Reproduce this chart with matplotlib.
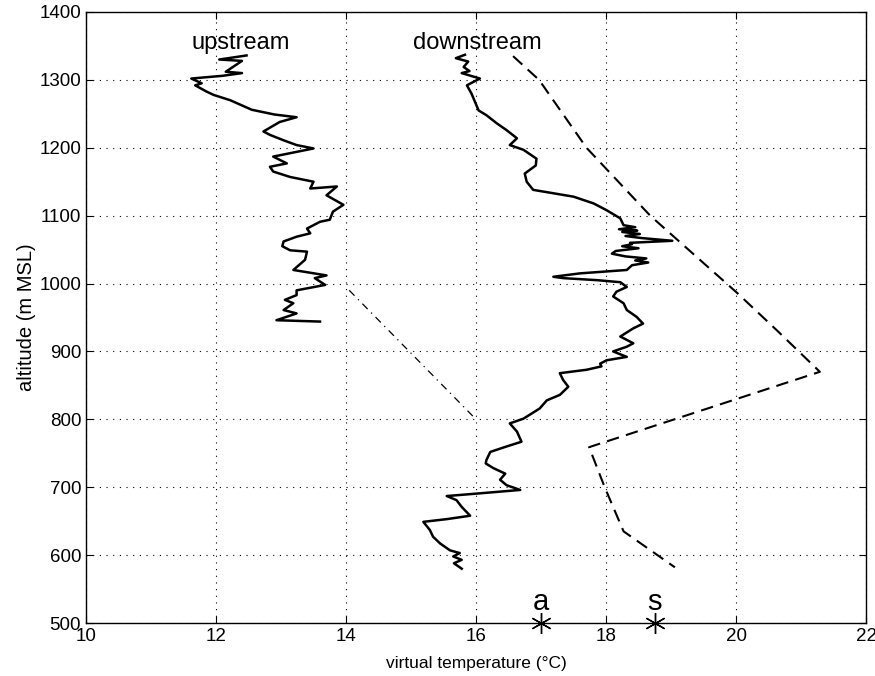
import matplotlib
matplotlib.use("Agg")
import matplotlib.pyplot as plt

plt.rcParams['font.family'] = ['Liberation Sans', 'DejaVu Sans']

# upstream sounding (virtual temperature degC, altitude m)
up_T = [12.47, 12.05, 12.40, 12.15, 12.40, 12.10, 11.62, 11.78, 11.68, 11.85, 11.96, 12.22,
        12.55, 12.90, 13.24, 12.98, 12.73, 12.83, 13.04, 13.24, 13.50, 12.88, 13.09, 12.83,
        12.88, 13.14, 13.50, 13.45, 13.86, 13.70, 13.96, 13.80, 13.75, 13.60, 13.40, 13.45,
        13.24, 13.04, 13.02, 13.14, 13.40, 13.37, 13.19, 13.70, 13.52, 13.68, 13.24, 13.24,
        13.06, 13.19, 13.04, 13.24, 12.93, 13.60]
up_alt = [1336, 1330, 1328, 1312, 1310, 1306, 1302, 1295, 1292, 1283, 1278, 1270,
          1256, 1249, 1245, 1238, 1224, 1219, 1211, 1204, 1199, 1187, 1177, 1172,
          1165, 1157, 1150, 1140, 1143, 1130, 1116, 1106, 1094, 1091, 1081, 1074,
          1069, 1062, 1055, 1049, 1047, 1035, 1020, 1012, 1008, 998, 990, 983,
          976, 971, 961, 956, 946, 944]

# downstream sounding
down_T = [15.83, 15.69, 15.88, 15.81, 15.90, 15.78, 16.06, 15.86, 15.93, 16.04, 16.16, 16.32,
          16.47, 16.63, 16.52, 16.73, 16.93, 16.92, 16.75, 16.78, 16.88, 17.19, 17.50, 17.81,
          18.01, 18.22, 18.27, 18.45, 18.20, 18.48, 18.25, 18.52, 18.30, 18.55, 19.02, 18.37,
          18.40, 18.25, 18.50, 18.15, 18.09, 18.30, 18.62, 18.45, 18.65, 18.40, 18.32, 17.60,
          17.19, 17.34, 17.86, 18.22, 18.32, 18.16, 18.11, 18.27, 18.32, 18.47, 18.57, 18.42,
          18.22, 18.42, 18.32, 18.11, 18.32, 18.01, 17.91, 17.93, 17.70, 17.29, 17.34, 17.42,
          17.29, 17.09, 16.98, 16.73, 16.52, 16.63, 16.70, 16.47, 16.22, 16.16, 16.15, 16.27,
          16.45, 16.37, 16.47, 16.68, 16.06, 15.55, 15.70, 15.78, 15.91, 15.55, 15.19, 15.29,
          15.34, 15.45, 15.60, 15.75, 15.65, 15.78, 15.66, 15.78]
down_alt = [1337, 1332, 1327, 1319, 1313, 1310, 1302, 1292, 1280, 1255, 1248, 1236,
            1226, 1214, 1204, 1197, 1184, 1174, 1162, 1150, 1138, 1133, 1128, 1118,
            1108, 1096, 1086, 1083, 1080, 1078, 1076, 1073, 1070, 1067, 1063, 1060,
            1058, 1055, 1052, 1048, 1044, 1040, 1037, 1034, 1031, 1027, 1020, 1015,
            1010, 1008, 1005, 1002, 995, 988, 981, 971, 961, 951, 941, 934,
            922, 912, 907, 900, 892, 887, 882, 878, 873, 868, 858, 848,
            836, 828, 816, 801, 794, 782, 767, 760, 752, 740, 735, 728,
            720, 711, 703, 696, 691, 687, 681, 671, 658, 653, 649, 637,
            627, 617, 607, 603, 598, 593, 588, 580]

# dashed profile
dash_T = [16.57, 16.97, 17.70, 18.68, 20.02, 20.63, 21.29, 17.74, 17.98, 18.27, 19.06]
dash_alt = [1335, 1300, 1200, 1100, 986, 931, 870, 759, 700, 635, 582]

# dash-dot line
dd_T = [14.05, 16.0]
dd_alt = [990, 800]

# site markers
mark_T = [17.0, 18.75]
mark_alt = [500, 500]
mark_labels = ['a', 's']

xticks = [10, 12, 14, 16, 18, 20, 22]
yticks = [500, 600, 700, 800, 900, 1000, 1100, 1200, 1300, 1400]

fig = plt.figure(figsize=(8.75, 6.76), dpi=100)
ax = fig.add_axes([86/875, 53/676, 780/875, 611/676])

ax.plot(up_T, up_alt, color='black', lw=1.8)
ax.plot(down_T, down_alt, color='black', lw=1.8)
ax.plot(dash_T, dash_alt, color='black', lw=1.5, dashes=(6, 3.5))
ax.plot(dd_T, dd_alt, color='black', lw=0.9, dashes=(6, 4, 1, 4))
ax.plot(mark_T, mark_alt, linestyle='none', marker=(6, 2, 0), color='black',
        ms=15, mew=1.0, clip_on=False, zorder=5)
for t, lab in zip(mark_T, mark_labels):
    ax.text(t, 510, lab, ha='center', va='bottom', fontsize=21)

ax.text(12.38, 1354, 'upstream', ha='center', va='center', fontsize=17)
ax.text(16.02, 1354, 'downstream', ha='center', va='center', fontsize=17)

ax.set_xlim(10, 22)
ax.set_ylim(500, 1400)
ax.set_xticks(xticks)
ax.set_yticks(yticks)
ax.grid(True, color='black', linestyle=(0, (1, 5)), linewidth=0.8)
ax.tick_params(direction='in', top=True, right=True, length=5, labelsize=13.5)
for s in ax.spines.values():
    s.set_linewidth(1.0)

ax.set_xlabel('virtual temperature (°C)', fontsize=12.5, labelpad=8)
ax.set_ylabel('altitude (m MSL)', fontsize=14.5, labelpad=2)

fig.savefig('out.png', dpi=100)
